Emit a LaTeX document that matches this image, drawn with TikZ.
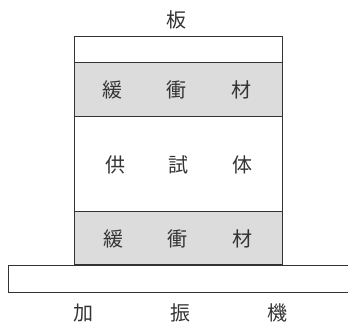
\documentclass[tikz,border=0pt]{standalone}
\usepackage{fontspec}
\newfontfamily\jp{Noto Sans CJK JP}
\definecolor{cush}{HTML}{DCDCDC}
\definecolor{ink}{HTML}{333333}
\begin{document}
\begin{tikzpicture}[x=1pt,y=1pt,
  layer/.style={draw=ink,line width=0.9pt,rectangle,inner sep=0pt,anchor=south west},
  lbl/.style={font=\jp\fontsize{20}{20}\selectfont,text=ink,inner sep=0pt}]
\useasboundingbox (0,0) rectangle (348,326);
\node[layer,fill=white,minimum width=340,minimum height=27] (shaker) at (8,33) {};
\node[layer,fill=cush,minimum width=208,minimum height=53] (lowcush) at (74,61) {};
\node[layer,fill=white,minimum width=208,minimum height=95] (spec) at (74,114) {};
\node[layer,fill=cush,minimum width=208,minimum height=54] (upcush) at (74,209) {};
\node[layer,fill=white,minimum width=208,minimum height=26] (plate) at (74,263) {};
\node[lbl] (ita) at (176,306) {板};
\node[lbl] (u1) at (112,236) {緩};
\node[lbl] (u2) at (176,236) {衝};
\node[lbl] (u3) at (241,236) {材};
\node[lbl] (s1) at (115,161) {供};
\node[lbl] (s2) at (178,161) {試};
\node[lbl] (s3) at (242,161) {体};
\node[lbl] (l1) at (113,87) {緩};
\node[lbl] (l2) at (177,87) {衝};
\node[lbl] (l3) at (242,87) {材};
\node[lbl] (k1) at (83,13) {加};
\node[lbl] (k2) at (180,13) {振};
\node[lbl] (k3) at (277,13) {機};
\end{tikzpicture}
\end{document}
